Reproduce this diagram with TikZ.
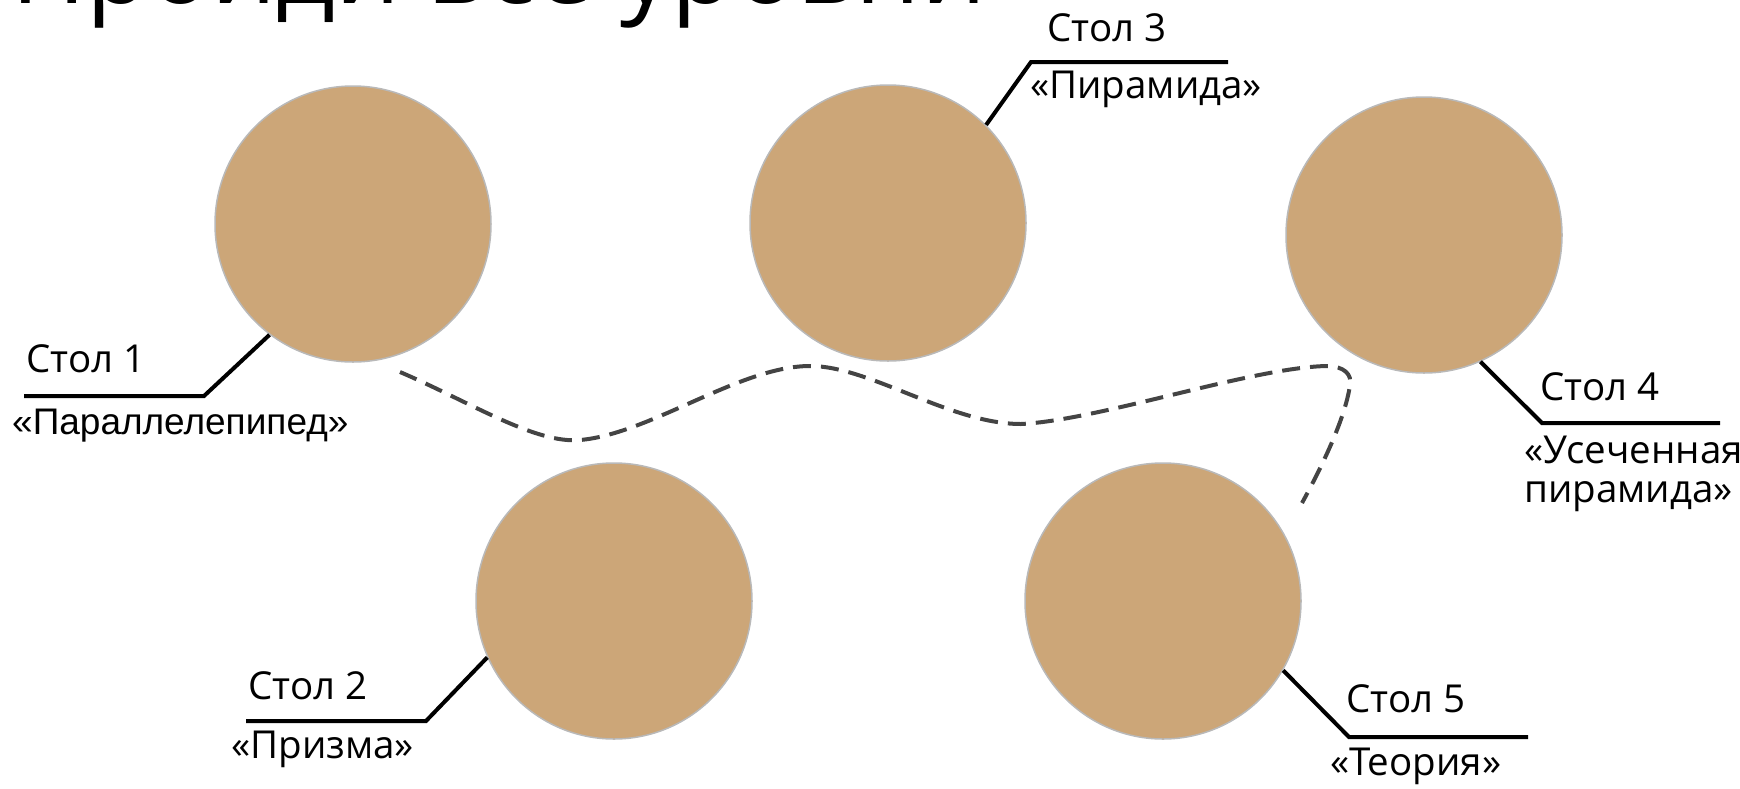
\documentclass[tikz,border=0pt]{standalone}
\usepackage{fontspec}
\setmainfont{Open Sans}
\newfontfamily\arialf{Liberation Sans}
\definecolor{tablefill}{RGB}{204,166,120}
\definecolor{tableedge}{RGB}{185,185,185}
\definecolor{dashgray}{RGB}{68,68,68}
\begin{document}
\begin{tikzpicture}[x=1pt,y=-1pt,
  tablenode/.style={circle, fill=tablefill, draw=tableedge, line width=1.5pt, minimum size=276pt, inner sep=0pt},
  leader/.style={line width=4pt, black},
  lbl/.style={anchor=base west, inner sep=0pt, font=\fontsize{38.5}{46}\selectfont},
  route/.style={dash pattern=on 18pt off 10pt, line width=4pt, color=dashgray}]
\useasboundingbox (0,0) rectangle (1740,788);
\clip (0,0) rectangle (1740,788);
% title
\node[anchor=base west, inner sep=0pt, font=\fontsize{103}{110}\selectfont] (title) at (11,3) {Пройди все уровни};
% tables
\node[tablenode] (t1) at (353,224) {};
\node[tablenode] (t2) at (614,601) {};
\node[tablenode] (t3) at (888,223) {};
\node[tablenode] (t4) at (1424,235) {};
\node[tablenode] (t5) at (1163,601) {};
% dashed route
\coordinate (rs) at (400,372);
\coordinate (re) at (1302,503);
\draw[route] (rs) .. controls (470,402) and (535,444) .. (580,440)
  .. controls (650,434) and (740,366) .. (810,366)
  .. controls (870,366) and (950,424) .. (1021,424)
  .. controls (1100,420) and (1250,368) .. (1326,366)
  .. controls (1345,366) and (1352,375) .. (1350,385)
  .. controls (1345,420) and (1320,470) .. (re);
% leaders
\coordinate (l1a) at (204,396); \coordinate (l1b) at (24,396);
\draw[leader] (t1.233) -- (l1a) -- (l1b);
\coordinate (l2a) at (426,721); \coordinate (l2b) at (246,721);
\draw[leader] (t2.204) -- (l2a) -- (l2b);
\coordinate (l3a) at (1031,62); \coordinate (l3b) at (1228,62);
\draw[leader] (t3.45) -- (l3a) -- (l3b);
\coordinate (l4a) at (1542,423); \coordinate (l4b) at (1720,423);
\draw[leader] (t4.294) -- (l4a) -- (l4b);
\coordinate (l5a) at (1349,737); \coordinate (l5b) at (1528,737);
\draw[leader] (t5.330) -- (l5a) -- (l5b);
% labels
\node[lbl] (s1) at (26,372) {Стол 1};
\node[lbl, font=\arialf\fontsize{37}{44}\selectfont] (n1) at (12,434) {«Параллелепипед»};
\node[lbl] (s2) at (248,699) {Стол 2};
\node[lbl] (n2) at (231,758) {«Призма»};
\node[lbl] (s3) at (1047,41) {Стол 3};
\node[lbl] (n3) at (1030,98) {«Пирамида»};
\node[lbl] (s4) at (1540,400) {Стол 4};
\node[lbl] (n4) at (1524,463) {«Усеченная};
\node[lbl] (n4b) at (1524,502) {пирамида»};
\node[lbl] (s5) at (1346,712) {Стол 5};
\node[lbl] (n5) at (1330,775) {«Теория»};
\end{tikzpicture}
\end{document}
